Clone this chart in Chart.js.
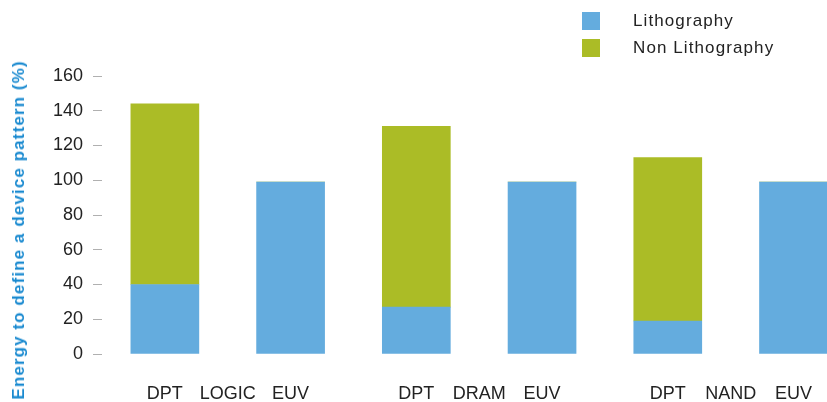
<!DOCTYPE html>
<html>
<head>
<meta charset="utf-8">
<script src="https://cdn.jsdelivr.net/npm/chart.js@4.4.1/dist/chart.umd.min.js"></script>
<style>
    body { margin: 0; background: #fff; }
    #wrap { position: relative; width: 827px; height: 402px; font-family: "Liberation Sans", Arial, sans-serif; }
    #legend { position: absolute; left: 582px; top: 7px; }
    .legend-item { display: flex; align-items: center; height: 27px; font-size: 17px; letter-spacing: 1.1px; color: #222; }
    .legend-box { width: 18px; height: 18px; margin-right: 33px; }
    #y-title { position: absolute; left: 19px; top: 230px; transform: translate(-50%, -50%) rotate(-90deg);
        white-space: nowrap; font-weight: bold; font-size: 17px; letter-spacing: 1.1px; color: #1a8ad0; }
</style>
</head>
<body>
<div id="wrap">
    <canvas id="myChart" width="827" height="402"></canvas>
    <div id="legend"></div>
    <div id="y-title">Energy to define a device pattern (%)</div>
</div>
<script>
// chart values
const bars = ["DPT", "EUV", "DPT", "EUV", "DPT", "EUV"];
const groups = ["LOGIC", "DRAM", "NAND"];
const lithography = [40, 99, 27, 99, 19, 99];
const nonLithography = [104, 0, 104, 0, 94, 0];
const seriesNames = ["Lithography", "Non Lithography"];
const seriesColors = ["#64acde", "#abbc26"];
const yMin = 0;
const yMax = 160;
const yStep = 20;

document.addEventListener("DOMContentLoaded", function () {
    // each group: blank slot, DPT, group name, EUV
    let labels = [];
    let litho = [];
    let nonLitho = [];
    for (let i = 0; i < groups.length; i++) {
        labels.push("", bars[i * 2], groups[i], bars[i * 2 + 1]);
        litho.push(null, lithography[i * 2], null, lithography[i * 2 + 1]);
        nonLitho.push(null, nonLithography[i * 2], null, nonLithography[i * 2 + 1]);
    }

    /* legend */
    let legend = document.getElementById("legend");
    for (let i = 0; i < seriesNames.length; i++) {
        let item = document.createElement("div");
        item.classList = "legend-item";
        let box = document.createElement("span");
        box.classList = "legend-box";
        box.style.background = seriesColors[i];
        let text = document.createElement("span");
        text.innerHTML = seriesNames[i];
        item.append(box);
        item.append(text);
        legend.append(item);
    }

    let ctx = document.getElementById("myChart");
    new Chart(ctx, {
        type: "bar",
        data: {
            labels: labels,
            datasets: [{
                label: seriesNames[0],
                data: litho,
                backgroundColor: seriesColors[0],
                barThickness: 68,
                clip: false
            }, {
                label: seriesNames[1],
                data: nonLitho,
                backgroundColor: seriesColors[1],
                barThickness: 68,
                clip: false
            }]
        },
        options: {
            responsive: false,
            animation: false,
            layout: { padding: { top: 76, right: 33.5, left: 0, bottom: 0 } },
            plugins: {
                legend: { display: false },
                tooltip: { enabled: false }
            },
            scales: {
                x: {
                    stacked: true,
                    offset: false,
                    grid: { display: false },
                    border: { display: false },
                    ticks: {
                        autoSkip: false,
                        maxRotation: 0,
                        padding: 21,
                        color: "#222",
                        font: { family: "Liberation Sans", size: 18 }
                    },
                    afterFit: function (scale) {
                        scale.height = 48;
                        scale.paddingLeft = 0;
                        scale.paddingRight = 0;
                    }
                },
                y: {
                    stacked: true,
                    min: yMin,
                    max: yMax,
                    grid: {
                        drawOnChartArea: false,
                        drawTicks: true,
                        tickLength: 9,
                        tickWidth: 1,
                        tickColor: "#b0b0b0"
                    },
                    border: { display: false },
                    ticks: {
                        stepSize: yStep,
                        padding: 10,
                        color: "#222",
                        font: { family: "Liberation Sans", size: 18 }
                    },
                    afterFit: function (scale) { scale.width = 102; }
                }
            }
        }
    });
});
</script>
</body>
</html>
